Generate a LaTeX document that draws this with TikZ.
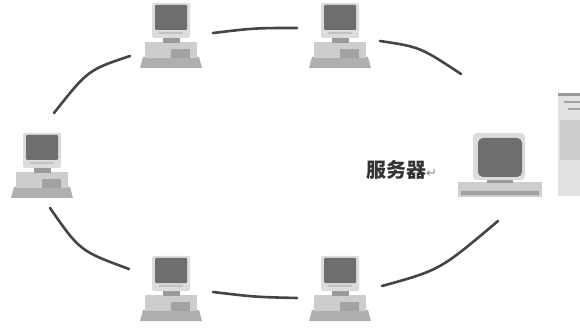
\documentclass[tikz,border=0pt]{standalone}
\usepackage{fontspec}
\newfontfamily\cjkfont{Noto Sans CJK SC}
\newfontfamily\symfont{DejaVu Sans}
\definecolor{ringline}{HTML}{454545}
\definecolor{bezelgray}{HTML}{DCDCDC}
\definecolor{screengray}{HTML}{6E6E6E}
\definecolor{neckgray}{HTML}{9A9A9A}
\definecolor{casegray}{HTML}{CDCDCD}
\definecolor{drivegray}{HTML}{A2A2A2}
\definecolor{kbdgray}{HTML}{AFAFAF}
\definecolor{towergray}{HTML}{E2E2E2}
\tikzset{
  ring/.style={draw=ringline, line width=2.6pt, line cap=round},
  spot/.style={inner sep=0pt, minimum width=62pt, minimum height=66pt},
  label/.style={font=\cjkfont\bfseries\fontsize{20}{22}\selectfont, text=black!80, inner sep=0pt},
  % desktop workstation: monitor on a flat case, keyboard in front
  pc/.pic={
    \fill[kbdgray] (-28,54) -- (28,54) -- (31,65) -- (-31,65) -- cycle;
    \fill[casegray] (-26,39) rectangle (26,55);
    \fill[drivegray] (0,46) rectangle (19,55);
    \fill[neckgray] (-8,33) rectangle (9,40);
    \fill[bezelgray, rounded corners=1.5pt] (-19,0) rectangle (19,35);
    \fill[screengray, rounded corners=1pt] (-16,2) rectangle (16,27);
    \fill[neckgray!60] (-12,29) rectangle (12,31);
  },
  % server console: large monitor on a flat base
  srv/.pic={
    \fill[casegray] (-41,49) rectangle (43,64);
    \fill[drivegray] (-38,58) rectangle (40,62);
    \fill[neckgray] (-12,46) rectangle (14,50);
    \fill[bezelgray, rounded corners=4pt] (-26,0) rectangle (26,47);
    \fill[screengray, rounded corners=5pt] (-21,5) rectangle (23,44);
  }
}
\begin{document}
\begin{tikzpicture}[x=1pt, y=-1pt]
\useasboundingbox (0,0) rectangle (580,328);
\fill[white] (0,0) rectangle (580,328);

% workstations
\node[spot] (pcTL) at (171,36) {};
\node[spot] (pcTR) at (340,36) {};
\node[spot] (pcL)  at (42,166) {};
\node[spot] (pcBL) at (171,289) {};
\node[spot] (pcBR) at (340,289) {};
\pic at (171,3)  {pc};
\pic at (340,3)  {pc};
\pic at (42,133) {pc};
\pic at (171,256) {pc};
\pic at (340,256) {pc};

% server and its tower
\node[spot] (server) at (499,165) {};
\pic at (499,133) {srv};
\fill[towergray] (558,93) rectangle (582,196);
\fill[neckgray] (558,93) rectangle (582,96);
\fill[drivegray] (564,101) rectangle (582,103);
\fill[drivegray] (568,108) rectangle (582,110);
\fill[casegray] (560,120) rectangle (582,160);

\node[label, anchor=west] (srvlabel) at (366,170) {服务器{\symfont\mdseries\fontsize{13}{14}\selectfont\color{black!45}↵}};

% ring segments between neighbouring stations
\coordinate (a1) at (130,56);  \coordinate (a2) at (54,113);
\coordinate (b1) at (50,208);  \coordinate (b2) at (129,269);
\coordinate (c1) at (213,33);  \coordinate (c2) at (297,28);
\coordinate (d1) at (380,41);  \coordinate (d2) at (461,74);
\coordinate (e1) at (213,292); \coordinate (e2) at (297,298);
\coordinate (f1) at (382,286); \coordinate (f2) at (498,221);
\draw[ring] (a1) .. controls (88,70) .. (a2);
\draw[ring] (b1) .. controls (80,251) .. (b2);
\draw[ring] (c1) .. controls (255,28) .. (c2);
\draw[ring] (d1) .. controls (420,47) .. (d2);
\draw[ring] (e1) .. controls (255,297) .. (e2);
\draw[ring] (f1) .. controls (440,270) .. (f2);
\end{tikzpicture}
\end{document}
